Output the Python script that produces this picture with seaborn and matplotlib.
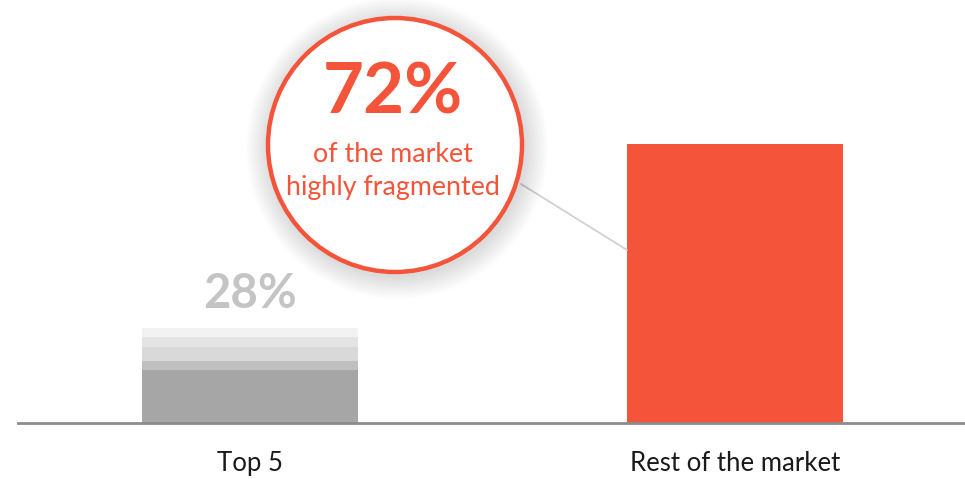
import matplotlib
matplotlib.use("Agg")
import matplotlib.pyplot as plt
import seaborn as sns
import numpy as np
import pandas as pd
from matplotlib.patches import Circle

# ---- data ----
categories = ["Top 5", "Rest of the market"]
shares = [28, 72]
# layered segments of the Top 5 bar (bottom -> top), as drawn
top5_segments = [13.7, 2.4, 3.4, 2.8, 2.3]
top5_colors = ["#a6a6a6", "#bfbfbf", "#d9d9d9", "#e4e4e4", "#f2f2f2"]
rest_color = "#f4553a"
callout_lines = ["of the market", "highly fragmented"]

sns.set_theme(style="white")
plt.rcParams["font.family"] = ["Lato", "DejaVu Sans"]

W, H = 965, 479
fig = plt.figure(figsize=(W / 100, H / 100), dpi=100)
base_px = 423
left_px = 18
ax = fig.add_axes([left_px / W, (H - base_px) / H, (W - left_px) / W, base_px / H])

# stacked Top 5: draw cumulative from tallest to shortest
cum = np.cumsum(top5_segments)
for i in range(len(top5_segments) - 1, -1, -1):
    df = pd.DataFrame({"cat": categories, "val": [cum[i], 0]})
    sns.barplot(data=df, x="cat", y="val", ax=ax, color=top5_colors[i],
                width=0.445, saturation=1, order=categories, linewidth=0)
df_rest = pd.DataFrame({"cat": categories, "val": [0, shares[1]]})
sns.barplot(data=df_rest, x="cat", y="val", ax=ax, color=rest_color,
            width=0.445, saturation=1, order=categories, linewidth=0)

px_per_unit = 485
ax.set_xlim(-(250 - left_px) / px_per_unit, 1 + (W - 735) / px_per_unit)
ax.set_ylim(0, base_px / 3.875)
sns.despine(ax=ax, left=True, top=True, right=True)
ax.spines["bottom"].set_color("#8c8c8c")
ax.spines["bottom"].set_linewidth(2)
ax.set_yticks([])
ax.set_xlabel("")
ax.set_ylabel("")
ax.tick_params(axis="x", length=0, pad=20, labelsize=18.5, labelcolor="#1a1a1a")

# 28% label
ax.text(0, cum[-1] + 3.0, f"{shares[0]}%", ha="center", va="bottom",
        fontsize=34, fontweight="bold", color="#c4c4c4")

# overlay in pixel coordinates for callout
ov = fig.add_axes([0, 0, 1, 1], facecolor="none")
ov.set_xlim(0, W)
ov.set_ylim(H, 0)
ov.axis("off")

cx, cy, r = 395, 145, 127
# connector line
ov.plot([521, 627], [184, 250], color="#d0d0d0", lw=1.3, zorder=1)
# soft shadow
for k in range(18):
    ov.add_patch(Circle((cx + 2, cy + 3), r + 2 + k * 1.3, facecolor="#000000",
                        edgecolor="none", alpha=0.008, zorder=2))
ov.add_patch(Circle((cx, cy), r, facecolor="white", edgecolor=rest_color,
                    lw=3.2, zorder=3))
ov.text(cx - 2, 93, f"{shares[1]}%", ha="center", va="center", fontsize=51,
        fontweight="bold", color=rest_color, zorder=4)
ov.text(cx - 2, 154, callout_lines[0], ha="center", va="center", fontsize=19.3,
        color=rest_color, zorder=4)
ov.text(cx - 2, 187, callout_lines[1], ha="center", va="center", fontsize=19.3,
        color=rest_color, zorder=4)

fig.savefig("out.png", dpi=100)
